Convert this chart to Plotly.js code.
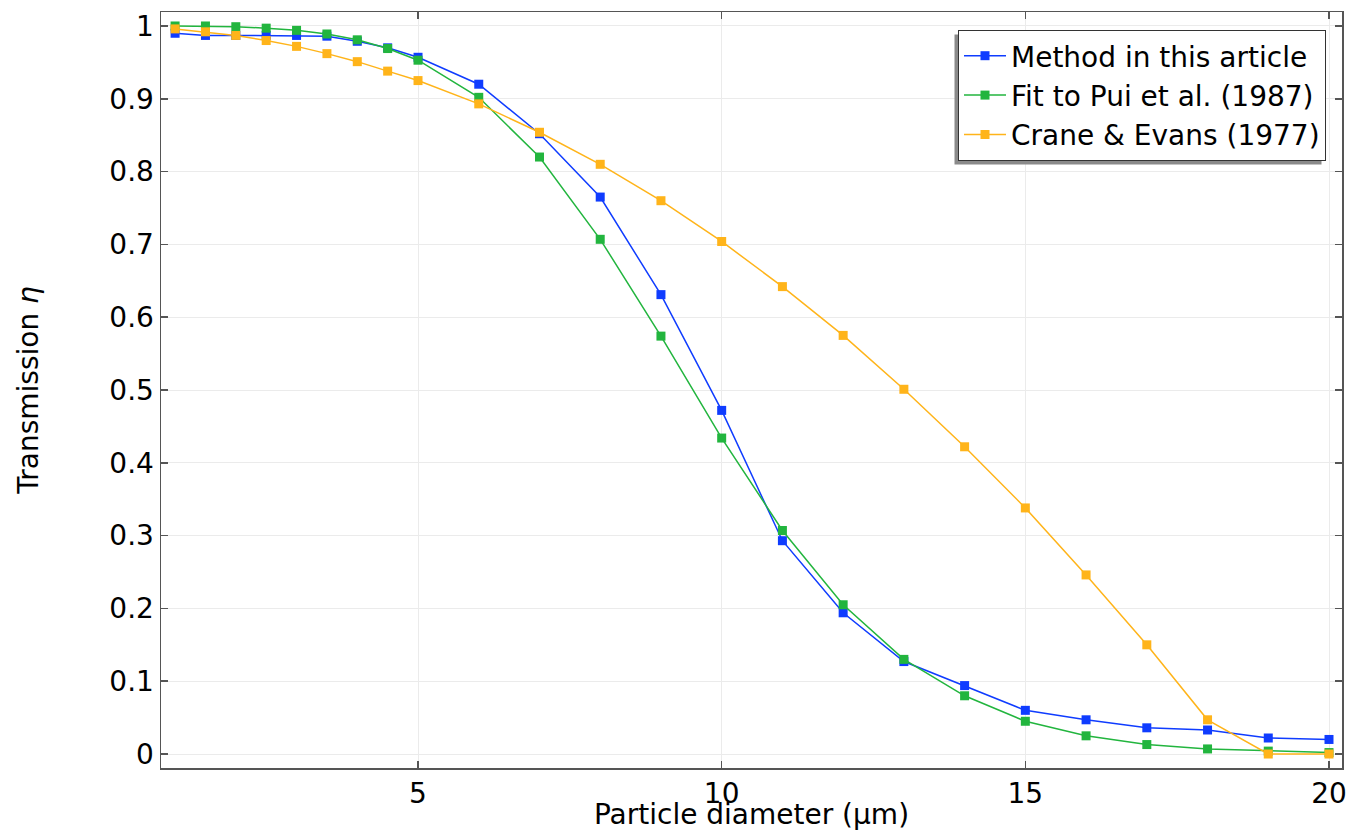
<!DOCTYPE html>
<html>
<head>
<meta charset="utf-8">
<script src="https://cdn.plot.ly/plotly-3.0.1.min.js"></script>
<style>
  html, body { margin: 0; padding: 0; background: #ffffff; }
  #chart { width: 1348px; height: 831px; }
</style>
</head>
<body>
<div id="chart"></div>
<script>
// Particle diameter (µm)
const diameter = [1, 1.5, 2, 2.5, 3, 3.5, 4, 4.5, 5, 6, 7, 8, 9, 10, 11, 12, 13, 14, 15, 16, 17, 18, 19, 20];

// Method in this article
const methodThisArticle = [0.990, 0.987, 0.987, 0.987, 0.987, 0.986, 0.979, 0.970, 0.957, 0.920, 0.852, 0.765, 0.631, 0.472, 0.293, 0.194, 0.127, 0.094, 0.060, 0.047, 0.036, 0.033, 0.022, 0.020];

// Fit to Pui et al. (1987)
const fitPui = [1.000, 1.000, 0.999, 0.997, 0.994, 0.989, 0.981, 0.969, 0.953, 0.902, 0.820, 0.707, 0.574, 0.434, 0.307, 0.205, 0.130, 0.080, 0.045, 0.025, 0.013, 0.007, 0.004, 0.002];

// Crane & Evans (1977)
const craneEvans = [0.996, 0.992, 0.987, 0.980, 0.972, 0.962, 0.951, 0.938, 0.925, 0.893, 0.854, 0.810, 0.760, 0.704, 0.642, 0.575, 0.501, 0.422, 0.338, 0.246, 0.150, 0.047, 0.000, 0.000];

const seriesNames = ["Method in this article", "Fit to Pui et al. (1987)", "Crane & Evans (1977)"];
const seriesColors = ["#0f3cff", "#22b53e", "#ffb41a"];
const seriesValues = [methodThisArticle, fitPui, craneEvans];

const xTicks = [5, 10, 15, 20];

const traces = seriesValues.map((vals, i) => ({
  type: "scatter",
  mode: "lines+markers",
  x: diameter,
  y: vals,
  name: seriesNames[i],
  line: { color: seriesColors[i], width: 1.5 },
  marker: { color: seriesColors[i], symbol: "square", size: 9 }
}));

const W = 1348, H = 831;
const L = 161, R = 1342, T = 12, B = 768;
const px = v => (v - L) / (R - L);
const py = v => (B - v) / (B - T);

const font = { family: "DejaVu Sans, sans-serif", size: 28, color: "#000000" };

const layout = {
  width: W,
  height: H,
  margin: { l: L, r: W - R, t: T, b: H - B, pad: 0 },
  paper_bgcolor: "#ffffff",
  plot_bgcolor: "#ffffff",
  font: font,
  showlegend: true,
  xaxis: {
    range: [0.768, 20.214],
    tickmode: "array",
    tickvals: xTicks,
    ticktext: xTicks.map(String),
    ticks: "inside",
    ticklen: 7,
    tickwidth: 1.5,
    tickcolor: "#555555",
    showline: true,
    linecolor: "#555555",
    linewidth: 1.5,
    mirror: "ticks",
    showgrid: true,
    gridcolor: "#ebebeb",
    gridwidth: 1,
    zeroline: false,
    tickfont: font,
    title: { text: "Particle diameter (μm)", font: font, standoff: 8 },
    automargin: false
  },
  yaxis: {
    range: [-0.0192, 1.0192],
    tickmode: "linear",
    tick0: 0,
    dtick: 0.1,
    ticks: "inside",
    ticklen: 7,
    tickwidth: 1.5,
    tickcolor: "#555555",
    showline: true,
    linecolor: "#555555",
    linewidth: 1.5,
    mirror: "ticks",
    showgrid: true,
    gridcolor: "#ebebeb",
    gridwidth: 1,
    zeroline: false,
    tickfont: font,
    title: { text: "Transmission <i>η</i>", font: font, standoff: 62 },
    automargin: false
  },
  legend: {
    x: px(1326),
    y: py(30),
    xanchor: "right",
    yanchor: "top",
    bgcolor: "#ffffff",
    bordercolor: "#333333",
    borderwidth: 1,
    font: font,
    itemwidth: 42,
    tracegroupgap: 0
  },
  shapes: []
};

Plotly.newPlot("chart", traces, layout, { displayModeBar: false, staticPlot: true }).then(gd => {
  const bg = gd.querySelector(".legend .bg");
  const host = gd.getBoundingClientRect();
  if (bg) {
    const r = bg.getBoundingClientRect();
    const x0 = r.left - host.left, x1 = r.right - host.left;
    const y0 = r.top - host.top, y1 = r.bottom - host.top;
    const off = 4;
    return Plotly.relayout(gd, {
      shapes: [{
        type: "rect",
        xref: "paper",
        yref: "paper",
        x0: px(x0 - off),
        x1: px(x1 - off),
        y0: py(y1 + off),
        y1: py(y0 + off),
        fillcolor: "#8a8a8a",
        line: { width: 0 },
        layer: "above"
      }]
    });
  }
});
</script>
</body>
</html>
